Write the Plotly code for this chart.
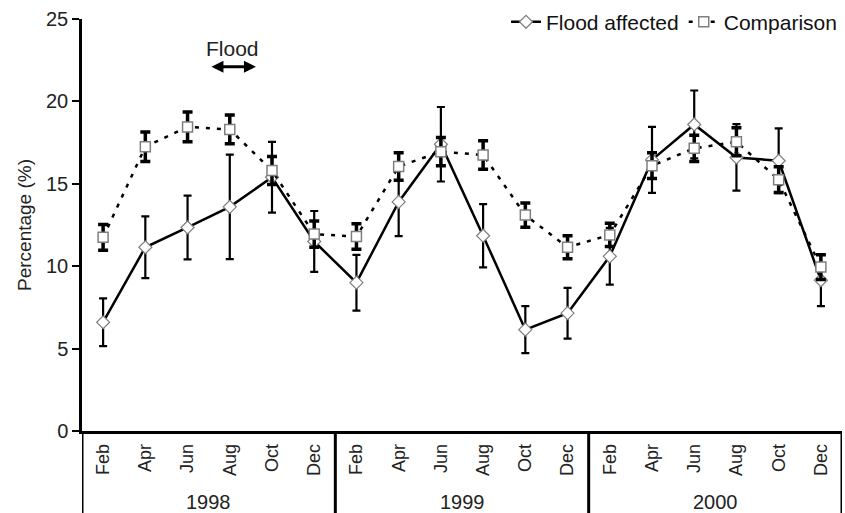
import plotly.graph_objects as go

months = ["Feb", "Apr", "Jun", "Aug", "Oct", "Dec"] * 3
years = ["1998", "1999", "2000"]

flood = [6.6, 11.15, 12.35, 13.6, 15.4, 11.5,
         9.0, 13.9, 17.4, 11.85, 6.15, 7.15,
         10.6, 16.45, 18.6, 16.6, 16.4, 9.15]
flood_err = [1.45, 1.87, 1.93, 3.17, 2.15, 1.85,
             1.69, 2.07, 2.26, 1.92, 1.43, 1.54,
             1.72, 2.0, 2.06, 2.02, 1.96, 1.57]
comp = [11.75, 17.25, 18.45, 18.3, 15.8, 11.95,
        11.8, 16.05, 16.95, 16.75, 13.1, 11.15,
        11.9, 16.1, 17.15, 17.55, 15.25, 9.95]
comp_err = [0.78, 0.9, 0.9, 0.87, 0.85, 0.8,
            0.77, 0.84, 0.86, 0.86, 0.74, 0.7,
            0.7, 0.78, 0.8, 0.85, 0.78, 0.75]

flood_start, flood_end = 2.53, 3.62  # flood period (category index units)

x = list(range(len(months)))
FONT = "Arial, Liberation Sans, sans-serif"

fig = go.Figure()
fig.add_trace(go.Scatter(
    x=x, y=flood, name="Flood affected", mode="lines+markers",
    line=dict(color="black", width=2.5),
    marker=dict(symbol="diamond", size=10, color="white",
                line=dict(color="#7f7f7f", width=1.2)),
    error_y=dict(type="data", array=flood_err, visible=True,
                 color="black", thickness=2.2, width=4),
))
fig.add_trace(go.Scatter(
    x=x, y=comp, name="Comparison", mode="lines+markers",
    line=dict(color="black", width=2.5, dash="4px,7px"),
    marker=dict(symbol="square", size=10, color="white",
                line=dict(color="#7f7f7f", width=1.5)),
    error_y=dict(type="data", array=comp_err, visible=True,
                 color="black", thickness=3.5, width=5),
))

n = len(months)
# group dividers below the axis
for k in range(len(years) + 1):
    xv = -0.5 + 6 * k
    fig.add_shape(type="line", xref="x", yref="paper", x0=xv, x1=xv,
                  y0=0, y1=-0.21, line=dict(color="black", width=3))
for k, yr in enumerate(years):
    fig.add_annotation(x=2.5 + 6 * k, y=-0.172, xref="x", yref="paper",
                       text=yr, showarrow=False, yanchor="middle",
                       font=dict(family=FONT, size=20, color="#222"))

# flood marker
fig.add_annotation(x=(flood_start + flood_end) / 2, y=23.2, xref="x", yref="y",
                   text="Flood", showarrow=False, yanchor="middle",
                   font=dict(family=FONT, size=21, color="#222"))
fig.add_annotation(x=flood_end, y=22.1, ax=flood_start, ay=22.1,
                   xref="x", yref="y", axref="x", ayref="y", text="",
                   showarrow=True, arrowhead=2, startarrowhead=2,
                   arrowside="end+start", arrowwidth=3, arrowsize=0.8,
                   arrowcolor="black", startarrowsize=0.8)

fig.update_layout(
    width=845, height=513,
    margin=dict(l=82, r=3, t=18, b=82),
    plot_bgcolor="white", paper_bgcolor="white",
    font=dict(family=FONT, size=19, color="#222"),
    showlegend=True,
    legend=dict(orientation="h", x=1.0, xanchor="right", y=0.99,
                yanchor="middle", bgcolor="rgba(0,0,0,0)",
                font=dict(family=FONT, size=21, color="#111"),
                itemwidth=30, tracegroupgap=0),
)
fig.update_xaxes(
    range=[-0.5, n - 0.5], tickmode="array", tickvals=x, ticktext=months,
    tickangle=-90, ticks="", showgrid=False, zeroline=False,
    showline=True, linecolor="black", linewidth=2.5,
    tickfont=dict(family=FONT, size=18, color="#222"),
    ticklabelstandoff=3, automargin=False,
)
fig.update_yaxes(
    range=[0, 25], dtick=5, ticks="outside", ticklen=7, tickwidth=2,
    tickcolor="black", showgrid=False, zeroline=False,
    showline=True, linecolor="black", linewidth=2.5,
    tickfont=dict(family=FONT, size=20, color="#222"),
    title=dict(text="Percentage (%)", font=dict(family=FONT, size=19, color="#222"),
               standoff=10),
    automargin=False,
)

fig.write_html("out.html", config={"displayModeBar": False},
               post_script="document.body.style.margin='0px';document.body.style.overflow='hidden';")
